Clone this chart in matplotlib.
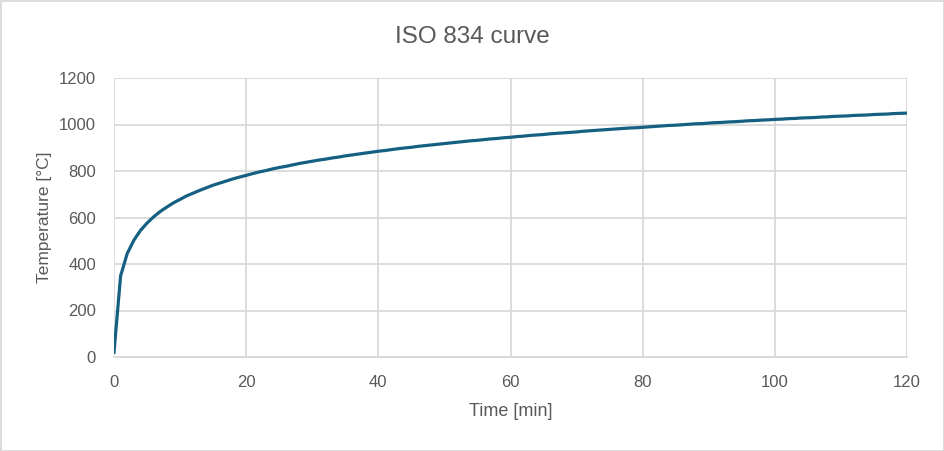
import matplotlib
matplotlib.use("Agg")
import matplotlib.pyplot as plt
from matplotlib.patches import Rectangle

# time in minutes, one point per minute
time_min = list(range(0, 121))
temp_c = [
    20, 349, 445, 502, 544, 576, 603, 626, 645, 663,
    678, 693, 705, 717, 728, 739, 748, 757, 766, 774,
    781, 789, 796, 802, 809, 815, 820, 826, 832, 837,
    842, 847, 851, 856, 860, 865, 869, 873, 877, 881,
    885, 888, 892, 896, 899, 902, 906, 909, 912, 915,
    918, 921, 924, 927, 930, 932, 935, 938, 940, 943,
    945, 948, 950, 953, 955, 957, 960, 962, 964, 966,
    968, 971, 973, 975, 977, 979, 981, 983, 985, 986,
    988, 990, 992, 994, 996, 997, 999, 1001, 1003, 1004,
    1006, 1008, 1009, 1011, 1012, 1014, 1016, 1017, 1019, 1020,
    1022, 1023, 1025, 1026, 1028, 1029, 1030, 1032, 1033, 1035,
    1036, 1037, 1039, 1040, 1041, 1043, 1044, 1045, 1047, 1048,
    1049,
]
x_ticks = [0, 20, 40, 60, 80, 100, 120]
y_ticks = [0, 200, 400, 600, 800, 1000, 1200]

plt.rcParams['font.family'] = ['Liberation Sans', 'DejaVu Sans']
txt = '#595959'
grid_c = '#d9d9d9'

fig = plt.figure(figsize=(9.45, 4.51), dpi=100)
ax = fig.add_axes([114 / 945, 1 - 357 / 451, (907 - 114) / 945, (357 - 78) / 451])

ax.plot(time_min, temp_c, color='#156082', lw=2.3, solid_joinstyle='round')

ax.set_xlim(0, 120)
ax.set_ylim(0, 1200)
ax.set_xticks(x_ticks)
ax.set_yticks(y_ticks)
ax.grid(True, color=grid_c, lw=1.3)
ax.set_axisbelow(True)
for side in ['top', 'right', 'left']:
    ax.spines[side].set_visible(False)
ax.spines['bottom'].set_color(grid_c)
ax.spines['bottom'].set_linewidth(1.3)
ax.tick_params(length=0, labelsize=12, colors=txt)
ax.tick_params(axis='x', pad=13)
ax.tick_params(axis='y', pad=13)

ax.set_xlabel('Time [min]', fontsize=13, color=txt, labelpad=9)
ax.set_ylabel('Temperature [°C]', fontsize=12.5, color=txt, labelpad=5)
fig.text(0.5, 1 - 37 / 451, 'ISO 834 curve', fontsize=17.5, color=txt,
         ha='center', va='center')

fig.patches.append(Rectangle((0.5 / 945, 0.5 / 451), 943.5 / 945, 449.5 / 451,
                             transform=fig.transFigure, fill=False,
                             edgecolor=grid_c, lw=1.3))

fig.savefig('out.png', dpi=100)
